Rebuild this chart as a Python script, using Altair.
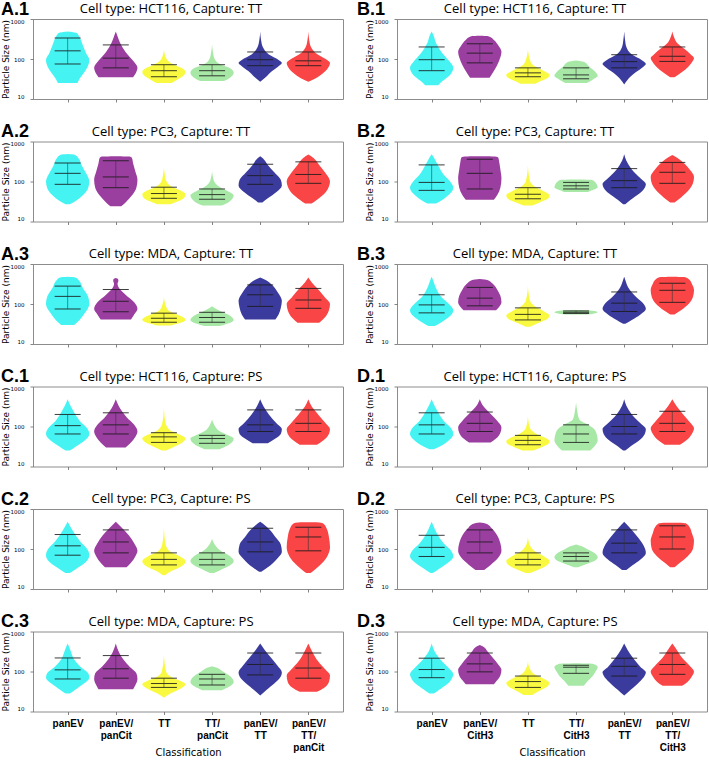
import json
import altair as alt
import pandas as pd

CATS_L = ["panEV", "panEV/panCit", "TT", "TT/panCit", "panEV/TT", "panEV/TT/panCit"]
CATS_R = ["panEV", "panEV/CitH3", "TT", "TT/CitH3", "panEV/TT", "panEV/TT/CitH3"]
COLORS = ["#45f3f3", "#9a3f9f", "#f9f941", "#a8e8a6", "#3b3b9d", "#f94545"]
Y_TICKS = [10, 100, 1000]

# (lo, mid, hi) quantile lines per class
A1_lines = [(75, 160, 335), (60, 105, 225), (36, 51, 72), (38, 51, 72), (68, 96, 150), (68, 90, 150)]
A2_lines = [(85, 160, 290), (70, 130, 330), (38, 50, 72), (36, 47, 65), (85, 140, 270), (90, 150, 310)]
A3_lines = [(75, 155, 280), (64, 117, 230), (35, 44, 59), (35, 46, 62), (87, 170, 300), (78, 126, 245)]
B1_lines = [(51, 96, 200), (80, 140, 240), (36, 45, 60), (32, 40, 60), (60, 86, 128), (87, 117, 200)]
B2_lines = [(60, 95, 260), (65, 160, 360), (37, 48, 70), (65, 78, 95), (70, 105, 210), (90, 170, 300)]
B3_lines = [(60, 95, 170), (90, 140, 260), (40, 55, 80), (58, 62, 67), (65, 105, 200), (110, 220, 330)]
C1_lines = [(65, 105, 200), (65, 110, 220), (40, 55, 70), (38, 50, 60), (75, 110, 260), (75, 120, 260)]
C2_lines = [(70, 120, 230), (80, 150, 300), (40, 55, 80), (40, 55, 80), (85, 150, 330), (90, 200, 350)]
C3_lines = [(65, 110, 218), (68, 117, 250), (40, 50, 68), (46, 65, 85), (82, 150, 290), (68, 122, 290)]
D1_lines = [(65, 110, 220), (75, 120, 230), (35, 45, 60), (40, 65, 110), (65, 100, 200), (75, 120, 240)]
D2_lines = [(65, 110, 220), (80, 150, 300), (40, 55, 80), (50, 65, 80), (80, 140, 300), (100, 200, 380)]
D3_lines = [(70, 112, 215), (98, 155, 290), (40, 56, 77), (90, 128, 143), (77, 135, 215), (85, 150, 290)]

# violin outlines: (particle size, relative half-width)
A1_shapes = [
    [(25, .45), (32, .55), (45, .75), (70, .95), (95, 1), (140, .85), (220, .7), (350, .55), (450, .4), (490, 0)],
    [(35, .8), (42, .9), (60, 1), (90, .8), (150, .45), (250, .2), (400, .06), (490, 0)],
    [(25, .35), (30, .6), (38, .9), (48, 1), (60, .8), (75, .4), (100, .12), (170, 0)],
    [(28, .55), (33, .8), (45, 1), (60, .8), (75, .35), (100, .12), (150, .04), (235, 0)],
    [(27, 0), (35, .25), (50, .55), (70, .9), (80, 1), (95, .85), (130, .4), (200, .12), (300, .04), (490, 0)],
    [(27, 0), (32, .3), (45, .7), (65, .95), (80, 1), (100, .8), (140, .35), (200, .12), (300, .04), (490, 0)],
]
A2_shapes = [
    [(27, .1), (32, .35), (45, .7), (70, .95), (100, 1), (160, .85), (250, .65), (380, .5), (470, .3), (490, 0)],
    [(24, .25), (30, .45), (45, .75), (70, .95), (110, 1), (180, .9), (280, .8), (380, .75), (420, .65), (430, 0)],
    [(27, .3), (32, .65), (40, .95), (48, 1), (60, .75), (75, .35), (100, .12), (150, .04), (220, 0)],
    [(25, .45), (30, .75), (38, .95), (45, 1), (55, .8), (70, .4), (90, .15), (130, .04), (180, 0)],
    [(30, .1), (38, .35), (55, .75), (80, 1), (110, .95), (170, .65), (260, .35), (380, .12), (430, 0)],
    [(28, .15), (35, .4), (50, .75), (75, .95), (100, 1), (160, .8), (260, .5), (380, .25), (470, 0)],
]
A3_shapes = [
    [(30, .3), (40, .55), (60, .8), (100, 1), (150, .95), (250, .7), (400, .5), (460, .35), (480, 0)],
    [(41, .7), (55, .85), (75, 1), (110, .85), (170, .45), (250, .15), (320, .08), (380, .12), (420, .1), (445, 0)],
    [(29, .3), (33, .7), (40, 1), (48, .85), (58, .5), (70, .2), (100, .06), (150, 0)],
    [(28, .35), (32, .7), (40, 1), (50, .85), (62, .5), (75, .2), (88, 0)],
    [(41, .7), (55, .85), (80, .95), (120, 1), (200, .8), (300, .55), (400, .25), (460, 0)],
    [(34, .5), (45, .75), (70, .95), (100, 1), (150, .75), (250, .4), (350, .15), (460, 0)],
]
B1_shapes = [
    [(22, .3), (28, .5), (40, .85), (60, 1), (90, .8), (150, .45), (250, .2), (400, .08), (490, 0)],
    [(34, .45), (45, .6), (70, .8), (110, .95), (150, 1), (220, .85), (300, .65), (370, .4), (380, 0)],
    [(24, .35), (28, .6), (35, .95), (40, 1), (48, .8), (60, .45), (80, .15), (170, 0)],
    [(25, .5), (30, .75), (38, 1), (50, .85), (65, .6), (85, .35), (92, 0)],
    [(23, 0), (30, .15), (45, .5), (65, .9), (75, 1), (95, .8), (130, .35), (200, .1), (300, .04), (490, 0)],
    [(35, .1), (45, .4), (65, .75), (90, .95), (105, 1), (130, .85), (180, .55), (260, .2), (350, .08), (490, 0)],
]
B2_shapes = [
    [(28, .2), (35, .5), (50, .85), (70, 1), (100, .85), (150, .55), (250, .3), (380, .12), (480, 0)],
    [(35, .65), (45, .8), (70, .95), (120, 1), (200, .95), (300, .9), (400, .85), (420, .7), (425, 0)],
    [(25, .2), (30, .55), (38, .95), (45, 1), (55, .8), (70, .4), (100, .1), (250, 0)],
    [(55, .55), (62, .8), (72, 1), (85, .95), (100, .85), (110, .7), (112, 0)],
    [(27, .05), (35, .3), (50, .7), (70, .95), (85, 1), (120, .75), (200, .35), (330, .1), (480, 0)],
    [(30, .1), (40, .4), (60, .75), (90, .95), (130, 1), (200, .8), (300, .5), (400, .2), (460, 0)],
]
B3_shapes = [
    [(28, .15), (35, .45), (50, .85), (70, 1), (100, .8), (150, .45), (250, .2), (400, .06), (480, 0)],
    [(70, .75), (85, .9), (110, 1), (160, .95), (230, .8), (320, .6), (400, .35), (420, 0)],
    [(27, .1), (33, .45), (42, .9), (52, 1), (65, .75), (85, .35), (120, .1), (280, 0)],
    [(55, .5), (58, .85), (62, 1), (66, .9), (70, .5), (71, 0)],
    [(32, .05), (40, .35), (55, .75), (75, 1), (100, .9), (150, .55), (250, .2), (400, .05), (480, 0)],
    [(55, .1), (70, .4), (100, .75), (150, .95), (220, 1), (320, .9), (420, .75), (470, .55), (480, 0)],
]
C1_shapes = [
    [(25, .1), (32, .4), (45, .8), (65, 1), (90, .9), (140, .55), (250, .25), (400, .06), (480, 0)],
    [(30, .45), (40, .7), (55, .9), (75, 1), (110, .85), (170, .5), (280, .2), (400, .06), (480, 0)],
    [(25, .1), (30, .4), (40, .85), (50, 1), (62, .75), (80, .3), (120, .08), (300, 0)],
    [(27, .35), (33, .7), (42, .95), (50, 1), (60, .75), (80, .3), (110, .1), (150, 0)],
    [(38, .35), (48, .65), (65, .95), (85, 1), (120, .75), (200, .4), (320, .15), (480, 0)],
    [(35, .4), (45, .7), (65, .95), (85, 1), (120, .8), (200, .45), (320, .15), (480, 0)],
]
C2_shapes = [
    [(25, .1), (32, .4), (45, .8), (70, 1), (100, .9), (150, .6), (250, .3), (400, .08), (480, 0)],
    [(35, .5), (45, .7), (65, .9), (90, 1), (140, .85), (220, .6), (330, .3), (480, 0)],
    [(22, .05), (28, .35), (38, .85), (50, 1), (65, .75), (85, .3), (130, .08), (350, 0)],
    [(25, .1), (30, .4), (38, .8), (50, 1), (65, .85), (90, .4), (130, .12), (180, 0)],
    [(27, .05), (35, .35), (55, .75), (85, 1), (130, .95), (200, .7), (300, .45), (400, .2), (480, 0)],
    [(25, .1), (32, .35), (45, .65), (70, .9), (110, 1), (200, .95), (320, .85), (430, .7), (460, .5), (465, 0)],
]
C3_shapes = [
    [(28, .1), (35, .35), (50, .75), (70, 1), (90, .95), (130, .6), (200, .3), (350, .12), (500, 0)],
    [(36, .8), (45, .9), (65, 1), (90, .95), (130, .65), (200, .35), (300, .15), (500, 0)],
    [(22, 0), (28, .3), (38, .8), (48, 1), (60, .7), (75, .3), (100, .1), (265, 0)],
    [(34, .45), (42, .8), (55, 1), (75, .85), (100, .5), (125, .2), (135, 0)],
    [(25, 0), (35, .3), (50, .65), (75, .95), (95, 1), (140, .8), (220, .5), (350, .2), (500, 0)],
    [(31, .4), (40, .75), (55, .95), (80, 1), (110, .8), (180, .45), (300, .2), (500, 0)],
]
D1_shapes = [
    [(27, .1), (32, .4), (45, .8), (65, 1), (90, .9), (140, .55), (250, .25), (400, .06), (480, 0)],
    [(40, .5), (50, .75), (70, .95), (95, 1), (140, .8), (220, .45), (330, .15), (480, 0)],
    [(25, .25), (30, .6), (37, .95), (43, 1), (52, .8), (65, .4), (90, .1), (180, 0)],
    [(25, .65), (32, .85), (45, 1), (65, .95), (90, .8), (115, .5), (150, .15), (250, .05), (400, 0)],
    [(25, .05), (32, .3), (45, .7), (65, .95), (85, 1), (120, .75), (200, .35), (330, .1), (480, 0)],
    [(35, .35), (45, .65), (65, .9), (90, 1), (130, .8), (200, .5), (320, .2), (480, 0)],
]
D2_shapes = [
    [(25, .05), (32, .35), (45, .75), (65, 1), (90, .9), (140, .55), (240, .25), (380, .08), (480, 0)],
    [(30, .2), (40, .5), (60, .85), (90, 1), (140, .95), (220, .8), (330, .55), (430, .3), (460, 0)],
    [(25, .1), (30, .45), (40, .9), (50, 1), (65, .75), (85, .35), (120, .1), (200, 0)],
    [(35, .1), (42, .5), (52, .9), (62, 1), (80, .85), (100, .5), (120, .2), (130, 0)],
    [(30, .1), (40, .4), (55, .75), (80, 1), (120, .9), (190, .65), (300, .35), (420, .1), (480, 0)],
    [(35, .1), (45, .35), (65, .7), (100, .95), (160, 1), (250, .9), (350, .8), (430, .65), (450, .4), (455, 0)],
]
D3_shapes = [
    [(28, .1), (35, .35), (50, .75), (70, .95), (85, 1), (120, .8), (200, .4), (330, .12), (500, 0)],
    [(48, .65), (60, .8), (80, .95), (110, 1), (150, .85), (220, .6), (320, .35), (420, .15), (460, 0)],
    [(26, .2), (32, .5), (42, .9), (52, 1), (65, .75), (85, .3), (120, .08), (180, 0)],
    [(44, .35), (55, .5), (75, .75), (100, .9), (130, 1), (155, .8), (160, 0)],
    [(25, 0), (35, .3), (55, .7), (80, .95), (95, 1), (130, .75), (220, .4), (350, .15), (500, 0)],
    [(44, .45), (55, .7), (75, .9), (100, 1), (140, .8), (220, .45), (350, .2), (500, 0)],
]

LEFT = [
    ("A.1", "Cell type: HCT116, Capture: TT", A1_lines, A1_shapes),
    ("A.2", "Cell type: PC3, Capture: TT", A2_lines, A2_shapes),
    ("A.3", "Cell type: MDA, Capture: TT", A3_lines, A3_shapes),
    ("C.1", "Cell type: HCT116, Capture: PS", C1_lines, C1_shapes),
    ("C.2", "Cell type: PC3, Capture: PS", C2_lines, C2_shapes),
    ("C.3", "Cell type: MDA, Capture: PS", C3_lines, C3_shapes),
]
RIGHT = [
    ("B.1", "Cell type: HCT116, Capture: TT", B1_lines, B1_shapes),
    ("B.2", "Cell type: PC3, Capture: TT", B2_lines, B2_shapes),
    ("B.3", "Cell type: MDA, Capture: TT", B3_lines, B3_shapes),
    ("D.1", "Cell type: HCT116, Capture: PS", D1_lines, D1_shapes),
    ("D.2", "Cell type: PC3, Capture: PS", D2_lines, D2_shapes),
    ("D.3", "Cell type: MDA, Capture: PS", D3_lines, D3_shapes),
]

HALF_MAX = 0.45
HALF_LINE = 0.27
POSITIONS = [0, 1, 2, 3, 4, 5]
XSCALE = alt.Scale(domain=[-0.72, 5.72], nice=False, zero=False)
YSCALE = alt.Scale(type="log", domain=[10, 1000], nice=False)

# approximate bold sans glyph widths (em) used to left-align stacked label lines
_W = {"p": .611, "a": .556, "n": .611, "E": .667, "V": .667, "/": .278, "C": .722,
      "i": .278, "t": .333, "T": .611, "H": .722, "3": .556}
NBSP = "\u00a0"


def label_lines(c):
    parts = c.split("/")
    lines = [p + "/" for p in parts[:-1]] + [parts[-1]]
    widths = [sum(_W.get(ch, .55) for ch in ln) for ln in lines]
    mx = max(widths)
    return [ln + NBSP * int(round((mx - w) / 0.278)) for ln, w in zip(lines, widths)]


def make_panel(letter, title, lines, shapes, cats, bottom, letter_x):
    sdf = pd.DataFrame([
        {"cat": cats[i], "pos": i, "v": v, "w": w}
        for i, s in enumerate(shapes) for v, w in s
    ])
    ldf = pd.DataFrame([
        {"cat": cats[i], "pos": i, "lo": lo, "mid": mid, "hi": hi}
        for i, (lo, mid, hi) in enumerate(lines)
    ])
    hdf = pd.DataFrame({"letter": [letter], "title": [title]})

    yaxis = alt.Axis(values=Y_TICKS, format="d", title="Particle Size (nm)",
                     titleFont="DejaVu Sans", titleFontSize=9, titleFontWeight="normal",
                     titlePadding=0, labelFont="DejaVu Sans", labelFontSize=5.5,
                     labelPadding=6, labelFlush=True, labelFlushOffset=0,
                     tickSize=3, domain=False, grid=False)
    if bottom:
        expr = json.dumps([label_lines(c) for c in cats]) + "[datum.value]"
        xaxis = alt.Axis(values=POSITIONS, labelExpr=expr, labelAngle=0,
                         labelFont="Liberation Sans", labelFontWeight="bold",
                         labelFontSize=10, labelLineHeight=12, labelBaseline="top",
                         labelPadding=4, tickSize=3, domain=False, grid=False,
                         title="Classification", titleFont="DejaVu Sans",
                         titleFontSize=10, titleFontWeight="normal", titleY=43.5,
                         titleBaseline="alphabetic")
    else:
        xaxis = alt.Axis(values=POSITIONS, labels=False, tickSize=3,
                         domain=False, grid=False, title="")

    color = alt.Color("pos:N", scale=alt.Scale(domain=POSITIONS, range=COLORS), legend=None)
    area = alt.Chart(sdf).transform_calculate(
        xa=f"datum.pos - {HALF_MAX} * datum.w",
        xb=f"datum.pos + {HALF_MAX} * datum.w",
    ).mark_area(orient="horizontal", interpolate="monotone").encode(
        y=alt.Y("v:Q", scale=YSCALE, axis=yaxis),
        x=alt.X("xa:Q", scale=XSCALE, axis=xaxis),
        x2="xb:Q",
        color=color,
    )
    hrule = alt.Chart(ldf).transform_fold(
        ["lo", "mid", "hi"], as_=["stat", "val"]
    ).transform_calculate(
        xa=f"datum.pos - {HALF_LINE}",
        xb=f"datum.pos + {HALF_LINE}",
    ).mark_rule(color="#1a1a1a", strokeWidth=1, opacity=0.85).encode(
        y=alt.Y("val:Q", scale=YSCALE, axis=yaxis),
        x=alt.X("xa:Q", scale=XSCALE, axis=xaxis),
        x2="xb:Q",
    )
    vrule = alt.Chart(ldf).mark_rule(color="#333333", strokeWidth=0.7, opacity=0.8).encode(
        x=alt.X("pos:Q", scale=XSCALE, axis=xaxis),
        y=alt.Y("lo:Q", scale=YSCALE, axis=yaxis),
        y2="hi:Q",
    )
    t_letter = alt.Chart(hdf).mark_text(
        align="left", baseline="top", fontSize=18, fontWeight="bold",
        font="Liberation Sans", color="black",
    ).encode(x=alt.value(letter_x), y=alt.value(-18.5), text="letter:N")
    t_title = alt.Chart(hdf).mark_text(
        align="center", baseline="top", fontSize=13, font="Open Sans",
        color="black",
    ).encode(x=alt.value(138), y=alt.value(-16), text="title:N")
    return alt.layer(area, hrule, vrule, t_letter, t_title).properties(
        width=310, height=80)


rows = []
for r in range(6):
    la, lt, ll, ls = LEFT[r]
    ra, rt, rl, rs = RIGHT[r]
    bottom = r == 5
    pl = make_panel(la, lt, ll, ls, CATS_L, bottom, -32)
    pr = make_panel(ra, rt, rl, rs, CATS_R, bottom, -40)
    rows.append(alt.hconcat(pl, pr, spacing=12))

chart = alt.vconcat(*rows, spacing=19.5).properties(
    padding={"left": 0, "top": 0, "right": 0, "bottom": 0}
).configure_view(stroke="#8c8c8c", strokeWidth=1).configure_axis(
    tickColor="#666666", tickWidth=0.8, labelColor="black", titleColor="black"
)

chart.save("out.html", embed_options={"renderer": "svg", "actions": False})
